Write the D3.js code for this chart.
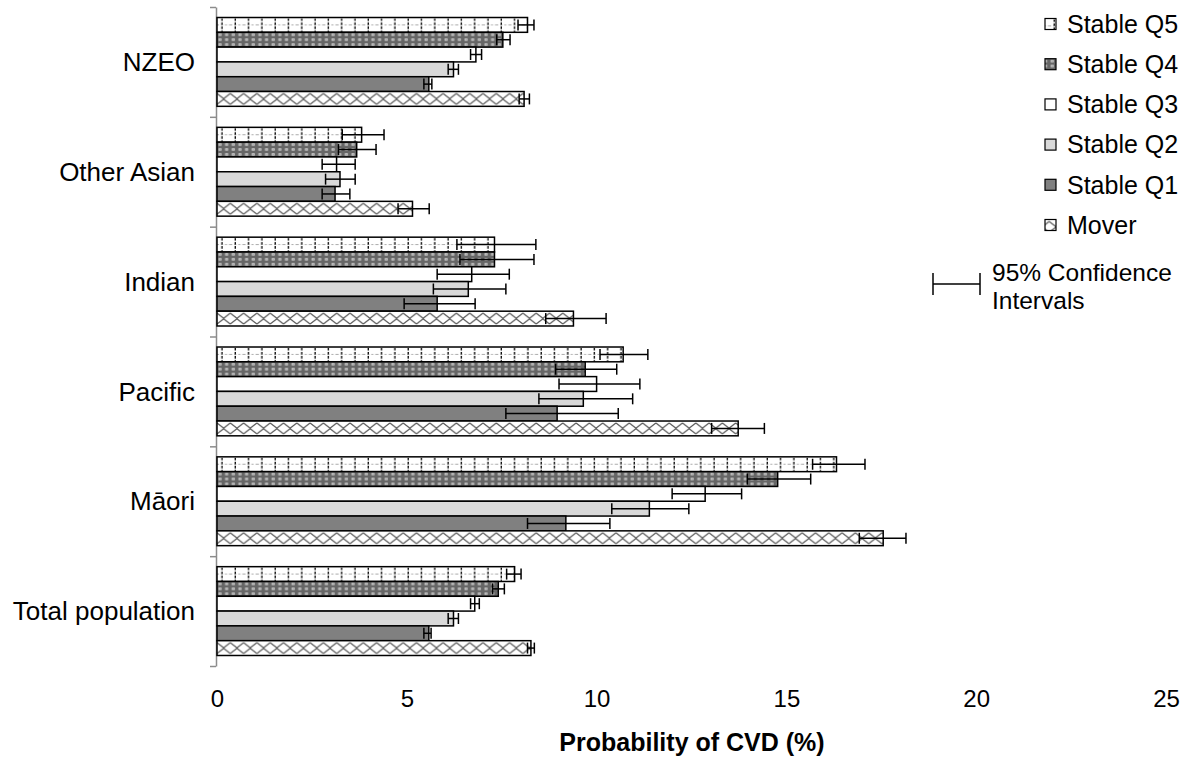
<!DOCTYPE html>
<meta charset="utf-8">
<style>
html, body { margin: 0; overflow: hidden; background: #fff; }
text { font-family: Arial, "Liberation Sans", sans-serif; fill: #000; }
</style>
<body>
<script src="https://d3js.org/d3.v7.min.js"></script>
<script>

var width = 1194,
  height = 760;

// categories, top to bottom
var categories = ["NZEO", "Other Asian", "Indian", "Pacific", "Māori", "Total population"];
// series, top to bottom inside each group
var series = ["Stable Q5", "Stable Q4", "Stable Q3", "Stable Q2", "Stable Q1", "Mover"];

// probability of CVD (%) with 95% CI, in category order
var q5 = [8.18, 3.81, 7.31, 10.70, 16.32, 7.84];
var q5Lo = [7.93, 3.30, 6.32, 10.09, 15.69, 7.63];
var q5Hi = [8.35, 4.40, 8.40, 11.35, 17.07, 8.01];
var q4 = [7.53, 3.68, 7.31, 9.70, 14.77, 7.41];
var q4Lo = [7.37, 3.20, 6.40, 8.92, 13.97, 7.26];
var q4Hi = [7.72, 4.19, 8.35, 10.53, 15.64, 7.57];
var q3 = [6.82, 3.15, 6.71, 10.00, 12.86, 6.79];
var q3Lo = [6.68, 2.77, 5.80, 9.01, 11.99, 6.68];
var q3Hi = [6.97, 3.64, 7.70, 11.14, 13.82, 6.91];
var q2 = [6.23, 3.24, 6.62, 9.65, 11.39, 6.23];
var q2Lo = [6.09, 2.86, 5.70, 8.48, 10.40, 6.09];
var q2Hi = [6.36, 3.64, 7.61, 10.95, 12.43, 6.36];
var q1 = [5.58, 3.11, 5.80, 8.96, 9.19, 5.58];
var q1Lo = [5.45, 2.77, 4.93, 7.61, 8.18, 5.45];
var q1Hi = [5.66, 3.50, 6.80, 10.57, 10.35, 5.64];
var mover = [8.09, 5.15, 9.39, 13.73, 17.55, 8.27];
var moverLo = [7.96, 4.77, 8.66, 13.03, 16.92, 8.18];
var moverHi = [8.23, 5.59, 10.25, 14.42, 18.15, 8.36];

var xTicks = [0, 5, 10, 15, 20, 25];

var values = [q5, q4, q3, q2, q1, mover];
var lows = [q5Lo, q4Lo, q3Lo, q2Lo, q1Lo, moverLo];
var highs = [q5Hi, q4Hi, q3Hi, q2Hi, q1Hi, moverHi];

var fills = ["url(#pQ5)", "url(#pQ4)", "#ffffff", "#d9d9d9", "#808080", "url(#pMover)"];

var bars = [];
categories.forEach(function(c, i) {
  series.forEach(function(s, j) {
    bars.push({cat: c, ser: s, fill: fills[j], v: values[j][i], lo: lows[j][i], hi: highs[j][i]});
  });
});

var x = d3.scaleLinear().domain([0, 25]).range([217, 1166]);
var yGroup = d3.scaleBand().domain(categories).range([7, 666]);
var yBar = d3.scaleBand().domain(series).range([0, yGroup.bandwidth()]).paddingOuter(0.71);
var bh = yBar.bandwidth();

var svg = d3.select("body").append("svg")
  .attr("width", width)
  .attr("height", height);

// fill patterns (user space of each bar group, so they line up with the bar top)
var defs = svg.append("defs");

var p5 = defs.append("pattern").attr("id", "pQ5")
  .attr("patternUnits", "userSpaceOnUse")
  .attr("x", x(0)).attr("width", 13.3).attr("height", bh);
p5.append("rect").attr("width", 13.3).attr("height", bh).attr("fill", "#fff");
p5.append("line").attr("x1", 0).attr("x2", 13.3).attr("y1", bh / 2).attr("y2", bh / 2)
  .attr("stroke", "#aaa").attr("stroke-width", 1).attr("stroke-dasharray", "2,2");
p5.append("line").attr("x1", 5).attr("x2", 5).attr("y1", 1).attr("y2", bh)
  .attr("stroke", "#000").attr("stroke-width", 1.3).attr("stroke-dasharray", "2.5,1.5");

var p4 = defs.append("pattern").attr("id", "pQ4")
  .attr("patternUnits", "userSpaceOnUse")
  .attr("x", x(0)).attr("width", 6.65).attr("height", bh / 3);
p4.append("rect").attr("width", 6.65).attr("height", bh / 3).attr("fill", "#666");
p4.append("rect").attr("x", 1.5).attr("y", 1.2).attr("width", 3).attr("height", 2.4).attr("fill", "#d0d0d0");
p4.append("rect").attr("x", 2.5).attr("y", 1.9).attr("width", 1).attr("height", 1).attr("fill", "#999");

var pm = defs.append("pattern").attr("id", "pMover")
  .attr("patternUnits", "userSpaceOnUse")
  .attr("x", x(0)).attr("width", 13.3).attr("height", bh);
pm.append("rect").attr("width", 13.3).attr("height", bh).attr("fill", "#fff");
pm.append("path")
  .attr("d", "M0,2 L6.65," + (bh / 2 - 0.3) + " L13.3,2 M0," + (bh - 2) + " L6.65," + (bh / 2 + 0.3) + " L13.3," + (bh - 2))
  .attr("fill", "none").attr("stroke", "#555").attr("stroke-width", 1.2);

// y axis with ticks between groups
var yIdx = d3.scaleLinear().domain([0, categories.length]).range([7, 666]);
var yAxis = svg.append("g")
  .attr("transform", "translate(216,0)")
  .call(d3.axisLeft(yIdx).tickValues(d3.range(categories.length + 1)).tickFormat("").tickSizeInner(6).tickSizeOuter(0));
yAxis.selectAll("path, line").attr("stroke", "#8c8c8c").attr("stroke-width", 1.5);

svg.append("g").selectAll("text")
  .data(categories)
  .enter().append("text")
  .attr("x", 195)
  .attr("y", function(d) { return yGroup(d) + yGroup.bandwidth() / 2; })
  .attr("dy", "0.35em")
  .attr("text-anchor", "end")
  .attr("font-size", 26)
  .text(function(d) { return d; });

// bars
var barG = svg.append("g").selectAll("g")
  .data(bars)
  .enter().append("g")
  .attr("transform", function(d) { return "translate(0," + (yGroup(d.cat) + yBar(d.ser)) + ")"; });

barG.append("rect")
  .attr("x", x(0))
  .attr("y", 0)
  .attr("width", function(d) { return x(d.v) - x(0); })
  .attr("height", bh)
  .attr("fill", function(d) { return d.fill; })
  .attr("stroke", "#000")
  .attr("stroke-width", 1.5);

// error bars
var err = svg.append("g").selectAll("g")
  .data(bars)
  .enter().append("g")
  .attr("transform", function(d) { return "translate(0," + (yGroup(d.cat) + yBar(d.ser) + bh / 2) + ")"; })
  .attr("stroke", "#000")
  .attr("stroke-width", 1.5);

err.append("line")
  .attr("x1", function(d) { return x(d.lo); })
  .attr("x2", function(d) { return x(d.hi); });
err.append("line")
  .attr("x1", function(d) { return x(d.lo); })
  .attr("x2", function(d) { return x(d.lo); })
  .attr("y1", -5.5).attr("y2", 5.5);
err.append("line")
  .attr("x1", function(d) { return x(d.hi); })
  .attr("x2", function(d) { return x(d.hi); })
  .attr("y1", -5.5).attr("y2", 5.5);

// x axis
var xAxis = svg.append("g")
  .attr("transform", "translate(0,666)")
  .call(d3.axisBottom(x).tickValues(xTicks).tickSize(0).tickPadding(24));
xAxis.select(".domain").remove();
xAxis.selectAll("text").attr("font-size", 24).attr("font-family", null);

svg.append("text")
  .attr("x", 692)
  .attr("y", 751)
  .attr("text-anchor", "middle")
  .attr("font-size", 25)
  .attr("font-weight", "bold")
  .text("Probability of CVD (%)");

// legend
var leg = svg.append("g").selectAll("g")
  .data(series)
  .enter().append("g")
  .attr("transform", function(d, i) { return "translate(1045," + (18.5 + i * 40.2) + ")"; });

leg.append("rect")
  .attr("width", 11).attr("height", 11)
  .attr("fill", function(d, i) { return fills[i]; })
  .attr("stroke", "#000")
  .attr("stroke-width", 1.2);

leg.append("text")
  .attr("x", 22)
  .attr("y", 5.5)
  .attr("dy", "0.35em")
  .attr("font-size", 25)
  .text(function(d) { return d; });

var ci = svg.append("g").attr("stroke", "#000").attr("stroke-width", 1.5);
ci.append("line").attr("x1", 933).attr("x2", 980).attr("y1", 284).attr("y2", 284);
ci.append("line").attr("x1", 933).attr("x2", 933).attr("y1", 273).attr("y2", 295);
ci.append("line").attr("x1", 980).attr("x2", 980).attr("y1", 273).attr("y2", 295);

svg.append("text").attr("x", 992).attr("y", 272).attr("dy", "0.35em").attr("font-size", 24.5).text("95% Confidence");
svg.append("text").attr("x", 992).attr("y", 300).attr("dy", "0.35em").attr("font-size", 24.5).text("Intervals");

</script>
